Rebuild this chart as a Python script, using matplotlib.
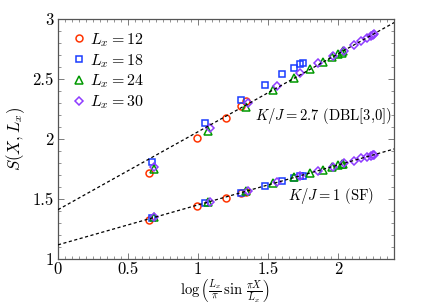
import numpy as np
import matplotlib
matplotlib.use("Agg")
import matplotlib.pyplot as plt

plt.rcParams['font.family'] = 'serif'
plt.rcParams['font.serif'] = ['cmr10']
plt.rcParams['mathtext.fontset'] = 'cm'
plt.rcParams['axes.formatter.use_mathtext'] = True

# x = log(Lx/pi * sin(pi X / Lx))
x12 = [0.647, 0.994, 1.196, 1.306, 1.340]
x18 = [0.673, 1.053, 1.304, 1.479, 1.602, 1.683, 1.730, 1.746]
x24 = [0.682, 1.073, 1.340, 1.537, 1.687, 1.802, 1.890, 1.954, 1.999, 2.025, 2.033]
x30 = [0.686, 1.082, 1.357, 1.563, 1.725, 1.855, 1.960, 2.045, 2.113, 2.166, 2.206,
       2.234, 2.251, 2.257]

# K/J = 2.7 (upper branch)
up12 = [1.72, 2.01, 2.175, 2.275, 2.315]
up18 = [1.81, 2.13, 2.325, 2.45, 2.54, 2.59, 2.625, 2.635]
up24 = [1.75, 2.07, 2.265, 2.405, 2.51, 2.585, 2.64, 2.68, 2.71, 2.72, 2.73]
up30 = [1.77, 2.09, 2.30, 2.44, 2.55, 2.63, 2.69, 2.735, 2.785, 2.815, 2.84,
        2.86, 2.87, 2.875]

# K/J = 1 (lower branch)
lo12 = [1.325, 1.44, 1.508, 1.548, 1.56]
lo18 = [1.34, 1.465, 1.55, 1.61, 1.65, 1.675, 1.69, 1.695]
lo24 = [1.345, 1.47, 1.565, 1.63, 1.68, 1.715, 1.745, 1.765, 1.78, 1.79, 1.795]
lo30 = [1.345, 1.475, 1.57, 1.638, 1.69, 1.735, 1.77, 1.797, 1.82, 1.838, 1.85,
        1.86, 1.866, 1.868]

# fits: intercept, slope
fit_up = (1.41, 0.65)
fit_lo = (1.117, 0.333)

labels = [r'$L_x = 12$', r'$L_x = 18$', r'$L_x = 24$', r'$L_x = 30$']
colors = ['#ff3300', '#1a3cff', '#009900', '#8f3cff']
markers = ['o', 's', '^', 'D']
msizes = [5, 4.5, 5.5, 4.5]

fig = plt.figure(figsize=(4.36, 3.06), dpi=100)
ax = fig.add_axes([0.133, 0.154, 0.771, 0.784])

xx = np.array([0, 2.4])
for a, b in (fit_up, fit_lo):
    ax.plot(xx, a + b * xx, color='black', ls=(0, (2.5, 2)), lw=0.9, zorder=3)

xs = [x12, x18, x24, x30]
ups = [up12, up18, up24, up30]
los = [lo12, lo18, lo24, lo30]
for i in range(4):
    ax.plot(xs[i], ups[i], ls='none', marker=markers[i], ms=msizes[i], mfc='none',
            mec=colors[i], mew=1.1, label=labels[i], zorder=2)
    ax.plot(xs[i], los[i], ls='none', marker=markers[i], ms=msizes[i], mfc='none',
            mec=colors[i], mew=1.1, zorder=2)

ax.text(1.41, 2.16, r'$K/J = 2.7$ (DBL[3,0])', fontsize=10.5)
ax.text(1.64, 1.49, r'$K/J = 1$ (SF)', fontsize=10.5)

ax.set_xlim(0, 2.4)
ax.set_ylim(1, 3)
ax.set_xticks([0, 0.5, 1, 1.5, 2])
ax.set_xticklabels(['0', '0.5', '1', '1.5', '2'])
ax.set_yticks([1, 1.5, 2, 2.5, 3])
ax.set_yticklabels(['1', '1.5', '2', '2.5', '3'])
ax.set_xticks(np.arange(0, 2.41, 0.05), minor=True)
ax.set_yticks(np.arange(1, 3.01, 0.1), minor=True)
ax.tick_params(which='both', direction='in', top=True, right=True, color='#666666',
               labelsize=12, pad=3)
ax.tick_params(axis='x', pad=2)
ax.tick_params(which='major', length=4, width=0.6)
ax.tick_params(which='minor', length=2, width=0.5)
for s in ax.spines.values():
    s.set_color('#555555')
    s.set_linewidth(0.9)

# x label placed by hand so the tall brackets stay inside the figure
fig.text(0.515, 0.0, r'$\log\left(\frac{L_x}{\pi}\,\sin\,\frac{\pi X}{L_x}\right)$',
         fontsize=10.5, ha='center', va='bottom')
ax.set_ylabel(r'$S(X, L_x)$', fontsize=12, labelpad=4)

ax.legend(loc='upper left', frameon=False, fontsize=11.5, handlelength=0.6,
          handletextpad=0.4, labelspacing=0.2, borderaxespad=0.2,
          bbox_to_anchor=(0.02, 0.99))

fig.savefig('out.png', dpi=100)
